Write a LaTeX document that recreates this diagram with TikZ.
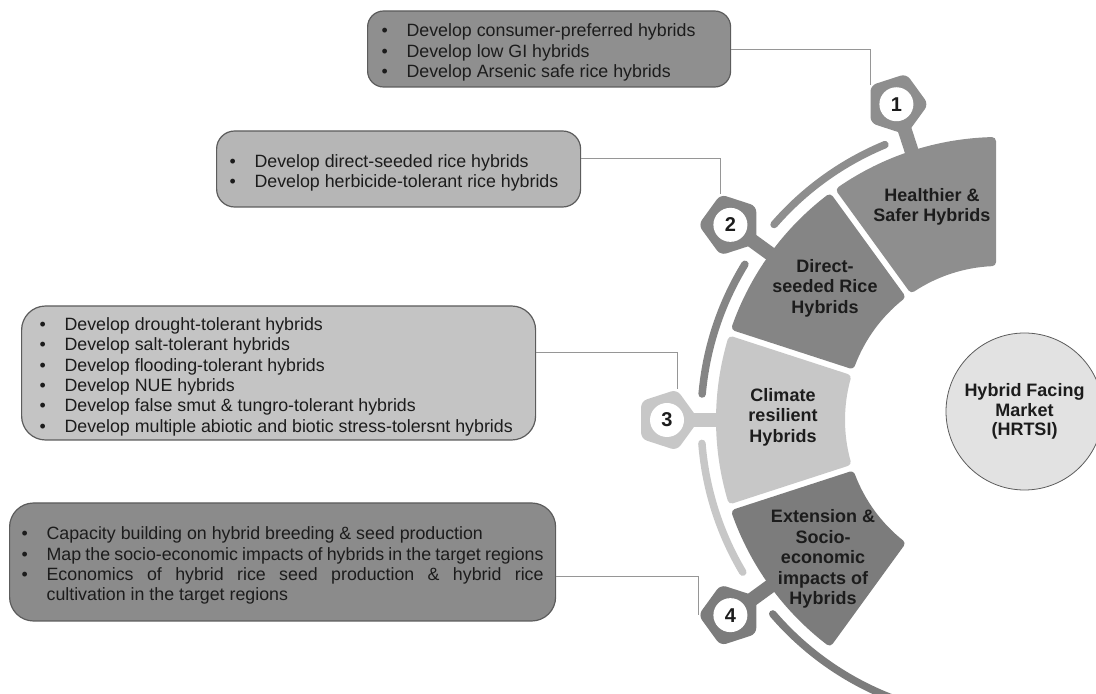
\documentclass[tikz,border=0pt]{standalone}
\usepackage{fontspec}
\setmainfont{Liberation Sans}
\usetikzlibrary{calc}
\usetikzlibrary{shapes.geometric}
\definecolor{greyH}{RGB}{142,142,142}
\definecolor{greyD}{RGB}{133,133,133}
\definecolor{greyC}{RGB}{199,199,199}
\definecolor{greyE}{RGB}{124,124,124}
\definecolor{boxA}{RGB}{143,143,143}
\definecolor{boxB}{RGB}{182,182,182}
\definecolor{boxC}{RGB}{196,196,196}
\definecolor{boxD}{RGB}{139,139,139}
\definecolor{boxedge}{RGB}{92,92,92}
\definecolor{wire}{RGB}{150,150,150}
\definecolor{ink}{RGB}{28,28,28}
\definecolor{marketfill}{RGB}{226,226,226}
\hyphenpenalty=10000
\tolerance=9999

\newcommand{\bitem}[1]{\par\noindent\makebox[25pt][l]{\textbullet}%
  \parbox[t]{\dimexpr\linewidth-25pt\relax}{#1}}

\tikzset{
  infobox/.style={draw=boxedge, line width=1.2pt, rounded corners=#1, anchor=west,
    inner ysep=2pt, align=justify, text=ink, font=\fontsize{17.8}{20.4}\selectfont},
  infobox/.default=16pt,
  block/.style={line width=8pt, line join=round},
  blocktext/.style={align=center, text=ink, font=\bfseries\fontsize{18}{20.5}\selectfont},
  strip/.style={line width=7.5pt, line cap=round},
  stem/.style={line width=14pt},
  pent/.style={regular polygon, regular polygon sides=5, minimum size=64pt,
    inner sep=0pt, rounded corners=6pt},
  numdisc/.style={circle, fill=white, minimum size=34pt, inner sep=0pt, text=ink,
    font=\bfseries\fontsize{20}{20}\selectfont},
  market/.style={circle, draw=boxedge, line width=0.8pt, fill=marketfill, minimum size=157pt,
    inner sep=0pt, align=center, text=ink, font=\bfseries\fontsize{18}{19.5}\selectfont},
  link/.style={draw=wire, line width=0.9pt},
}

\begin{document}
\begin{tikzpicture}[x=1pt, y=1pt]
  \useasboundingbox (0,0) rectangle (1096,694);
  \clip (0,0) rectangle (1096,694);
  \coordinate (C) at (999,274);

  % Arc blocks
  \foreach \a/\b/\col in {90/126/greyH, 126/162/greyD, 162/198/greyC, 198/234/greyE}
    \path[block, fill=\col, draw=\col] ($(C)+(\a+1.44:279)$)
      arc[start angle=\a+1.44, end angle=\b-1.44, radius=279pt]
      -- ($(C)+(\b-2.54:158)$)
      arc[start angle=\b-2.54, end angle=\a+2.54, radius=158pt] -- cycle;

  % Outer strips
  \foreach \a/\b/\col in {112.5/139/greyH, 148.5/175/greyD, 184.5/210.7/greyC, 220.6/262/greyE}
    \draw[strip, \col] ($(C)+(\a:298)$) arc[start angle=\a, end angle=\b, radius=298pt];

  % Stems
  \foreach \a/\col in {108/greyH, 144/greyD, 180/greyC, 216/greyE}
    \draw[stem, \col] ($(C)+(\a:318)$) -- ($(C)+(\a:279)$);

  % Number badges
  \node[pent, fill=greyH, shape border rotate=198] (h1) at ($(C)+(108:332)$) {};
  \node[numdisc] (n1) at (h1) {1};
  \node[pent, fill=greyD, shape border rotate=234] (h2) at ($(C)+(144:332)$) {};
  \node[numdisc] (n2) at (h2) {2};
  \node[pent, fill=greyC, shape border rotate=270] (h3) at ($(C)+(180:332)$) {};
  \node[numdisc] (n3) at (h3) {3};
  \node[pent, fill=greyE, shape border rotate=306] (h4) at ($(C)+(216:332)$) {};
  \node[numdisc] (n4) at (h4) {4};

  % Block labels
  \node[blocktext] (healthy) at (932,487) {Healthier \&\\Safer Hybrids};
  \node[blocktext] (direct) at (825,406) {Direct-\\seeded Rice\\Hybrids};
  \node[blocktext] (climate) at (783,277) {Climate\\resilient\\Hybrids};
  \node[blocktext] (extension) at (823,135) {Extension \&\\Socio-\\economic\\impacts of\\Hybrids};

  % Market
  \node[market] (mkt) at (1024.5,282.5) {Hybrid Facing\\Market\\(HRTSI)};

  % Boxes
  \node[infobox, fill=boxA, text width=335pt, inner xsep=14pt, minimum height=76pt] (b1) at (367,645)
    {\bitem{Develop consumer-preferred hybrids}\bitem{Develop low GI hybrids}\bitem{Develop Arsenic safe rice hybrids}};
  \node[infobox=18pt, fill=boxB, text width=338pt, inner xsep=13pt, minimum height=76pt] (b2) at (216,525)
    {\bitem{Develop direct-seeded rice hybrids}\bitem{Develop herbicide-tolerant rice hybrids}};
  \node[infobox=24pt, fill=boxC, text width=478pt, inner xsep=18pt, minimum height=134pt] (b3) at (21,321)
    {\bitem{Develop drought-tolerant hybrids}\bitem{Develop salt-tolerant hybrids}%
     \bitem{Develop flooding-tolerant hybrids}\bitem{Develop NUE hybrids}%
     \bitem{Develop false smut \& tungro-tolerant hybrids}%
     \bitem{Develop multiple abiotic and biotic stress-tolersnt hybrids}};
  \node[infobox=24pt, fill=boxD, text width=522pt, inner xsep=12pt, minimum height=118pt] (b4) at (9,132)
    {\bitem{Capacity building on hybrid breeding \& seed production}%
     \bitem{Map the socio-economic impacts of hybrids in the target regions}%
     \bitem{Economics of hybrid rice seed production \& hybrid rice cultivation in the target regions}};

  % Connectors
  \draw[link] (b1.east) -| (h1.corner 4);
  \draw[link] ([yshift=11pt]b2.east) -| (h2.corner 3);
  \draw[link] ([yshift=21pt]b3.east) -| (h3.corner 2);
  \draw[link] ([yshift=-14pt]b4.east) -| (h4.corner 3);
\end{tikzpicture}
\end{document}
